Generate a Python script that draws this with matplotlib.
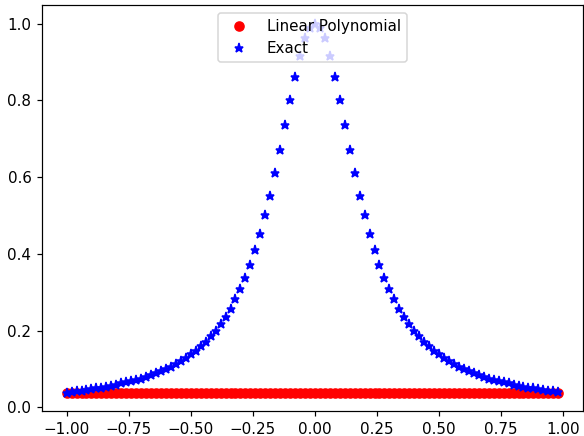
import matplotlib
matplotlib.use('Agg')
import matplotlib.pyplot as plt

# sample points -1.00 ... 0.98 (step 0.02)
x_nodes = [
    -1.00, -0.98, -0.96, -0.94, -0.92, -0.90, -0.88, -0.86, -0.84, -0.82,
    -0.80, -0.78, -0.76, -0.74, -0.72, -0.70, -0.68, -0.66, -0.64, -0.62,
    -0.60, -0.58, -0.56, -0.54, -0.52, -0.50, -0.48, -0.46, -0.44, -0.42,
    -0.40, -0.38, -0.36, -0.34, -0.32, -0.30, -0.28, -0.26, -0.24, -0.22,
    -0.20, -0.18, -0.16, -0.14, -0.12, -0.10, -0.08, -0.06, -0.04, -0.02,
    0.00, 0.02, 0.04, 0.06, 0.08, 0.10, 0.12, 0.14, 0.16, 0.18,
    0.20, 0.22, 0.24, 0.26, 0.28, 0.30, 0.32, 0.34, 0.36, 0.38,
    0.40, 0.42, 0.44, 0.46, 0.48, 0.50, 0.52, 0.54, 0.56, 0.58,
    0.60, 0.62, 0.64, 0.66, 0.68, 0.70, 0.72, 0.74, 0.76, 0.78,
    0.80, 0.82, 0.84, 0.86, 0.88, 0.90, 0.92, 0.94, 0.96, 0.98,
]

exact = [
    0.038, 0.040, 0.042, 0.043, 0.045, 0.047, 0.049, 0.051, 0.054, 0.056,
    0.059, 0.062, 0.065, 0.068, 0.072, 0.075, 0.080, 0.084, 0.089, 0.094,
    0.100, 0.106, 0.113, 0.121, 0.129, 0.138, 0.148, 0.159, 0.171, 0.185,
    0.200, 0.217, 0.236, 0.257, 0.281, 0.308, 0.338, 0.372, 0.410, 0.452,
    0.500, 0.552, 0.610, 0.671, 0.735, 0.800, 0.862, 0.917, 0.962, 0.990,
    1.000, 0.990, 0.962, 0.917, 0.862, 0.800, 0.735, 0.671, 0.610, 0.552,
    0.500, 0.452, 0.410, 0.372, 0.338, 0.308, 0.281, 0.257, 0.236, 0.217,
    0.200, 0.185, 0.171, 0.159, 0.148, 0.138, 0.129, 0.121, 0.113, 0.106,
    0.100, 0.094, 0.089, 0.084, 0.080, 0.075, 0.072, 0.068, 0.065, 0.062,
    0.059, 0.056, 0.054, 0.051, 0.049, 0.047, 0.045, 0.043, 0.042, 0.040,
]

linear_level = 0.0385
linear = [linear_level] * len(x_nodes)

DPI = 109
fig, ax = plt.subplots(figsize=(584 / DPI, 436 / DPI), dpi=DPI)
ax.plot(x_nodes, linear, 'ro', label='Linear Polynomial')
ax.plot(x_nodes, exact, 'b*', label='Exact')
ax.legend(loc='upper center')
plt.subplots_adjust(left=0.072, right=0.998, top=0.988, bottom=0.057)
plt.savefig('out.png', dpi=DPI)
plt.close()
